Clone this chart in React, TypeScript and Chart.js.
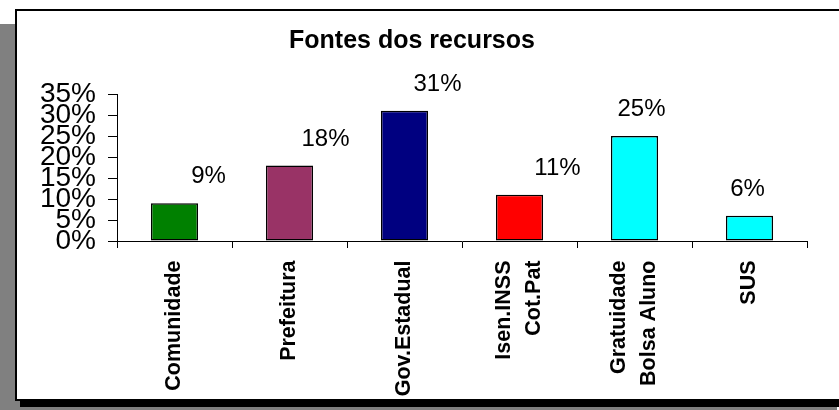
import React, { useEffect, useRef } from "react";
import { Chart, registerables } from "chart.js";

Chart.register(...registerables);

const FONT = '"Liberation Sans", Arial, Helvetica, sans-serif';

const chartTitle = "Fontes dos recursos";
const categories: string[][] = [
  ["Comunidade"],
  ["Prefeitura"],
  ["Gov.Estadual"],
  ["Isen.INSS", "Cot.Pat"],
  ["Gratuidade", "Bolsa Aluno"],
  ["SUS"],
];
const values = [9, 18, 31, 11, 25, 6];
const barColors = ["#008000", "#993366", "#000080", "#FF0000", "#00FFFF", "#00FFFF"];
const yMin = 0;
const yMax = 35;
const yStep = 5;

// manual horizontal offsets of the value labels (as placed in the original)
const labelDx = [34, 36, 33, 38, 7, -2];

const labelsPlugin = {
  id: "customLabels",
  afterDatasetsDraw(chart: any) {
    const ctx = chart.ctx as CanvasRenderingContext2D;
    const meta = chart.getDatasetMeta(0);
    ctx.save();
    ctx.fillStyle = "#000";
    ctx.font = `24px ${FONT}`;
    ctx.textAlign = "center";
    ctx.textBaseline = "middle";
    meta.data.forEach((el: any, i: number) => {
      ctx.fillText(values[i] + "%", el.x + labelDx[i], el.y - 26.5);
    });
    const xs = chart.scales.x;
    ctx.font = `bold 21.5px ${FONT}`;
    ctx.textAlign = "right";
    ctx.textBaseline = "middle";
    categories.forEach((lines, i) => {
      const px = xs.getPixelForValue(i);
      lines.forEach((line, j) => {
        ctx.save();
        ctx.translate(px + (j - (lines.length - 1) / 2) * 30, xs.top + 19.5);
        ctx.rotate(-Math.PI / 2);
        ctx.fillText(line, 0, 0);
        ctx.restore();
      });
    });
    ctx.restore();
  },
};

export default function App() {
  const canvasRef = useRef<HTMLCanvasElement | null>(null);

  useEffect(() => {
    if (!canvasRef.current) return;
    const chart = new Chart(canvasRef.current, {
      type: "bar",
      data: {
        labels: categories.map((c) => c.join(" ")),
        datasets: [
          {
            data: values,
            backgroundColor: barColors,
            borderColor: "#000",
            borderWidth: 1.5,
            borderSkipped: false,
            barPercentage: 0.41,
            categoryPercentage: 1,
          },
        ],
      },
      options: {
        responsive: false,
        animation: false,
        devicePixelRatio: 1,
        layout: { padding: { left: 0, right: 42, top: 0, bottom: 0 } },
        plugins: {
          legend: { display: false },
          tooltip: { enabled: false },
          title: {
            display: true,
            text: chartTitle,
            color: "#000",
            font: { family: FONT, size: 25, weight: "bold", lineHeight: 1.2 },
            padding: { top: 15, bottom: 38 },
          },
        },
        scales: {
          x: {
            offset: true,
            grid: {
              display: true,
              offset: true,
              drawOnChartArea: false,
              drawTicks: true,
              tickLength: 7,
              color: "#000",
              lineWidth: 1,
            },
            border: { display: true, color: "#000", width: 1 },
            ticks: { display: false },
            afterFit(scale: any) {
              scale.height = 158;
            },
          },
          y: {
            min: yMin,
            max: yMax,
            grid: {
              display: true,
              drawOnChartArea: false,
              drawTicks: true,
              tickLength: 9,
              color: "#000",
              lineWidth: 1,
            },
            border: { display: true, color: "#000", width: 1 },
            ticks: {
              stepSize: yStep,
              autoSkip: false,
              padding: 12,
              color: "#000",
              font: { family: FONT, size: 28, lineHeight: 1 },
              callback: (v: any) => v + "%",
            },
            afterFit(scale: any) {
              scale.width = 100;
            },
          },
        },
      },
      plugins: [labelsPlugin],
    });
    return () => chart.destroy();
  }, []);

  return (
    <div
      style={{
        position: "absolute",
        left: 0,
        top: 0,
        width: 839,
        height: 410,
        overflow: "hidden",
        background: "#fff",
      }}
    >
      <div
        style={{
          position: "absolute",
          left: 0,
          top: 24,
          width: 837,
          height: 386,
          background: "#808080",
        }}
      />
      <div
        style={{
          position: "absolute",
          left: 15,
          top: 9,
          width: 900,
          height: 392,
          boxSizing: "border-box",
          border: "2px solid #000",
          background: "#fff",
          boxShadow: "5px 6px 0 #000",
        }}
      />
      <canvas
        ref={canvasRef}
        width={832}
        height={388}
        style={{ position: "absolute", left: 17, top: 11, width: 832, height: 388 }}
      />
    </div>
  );
}
